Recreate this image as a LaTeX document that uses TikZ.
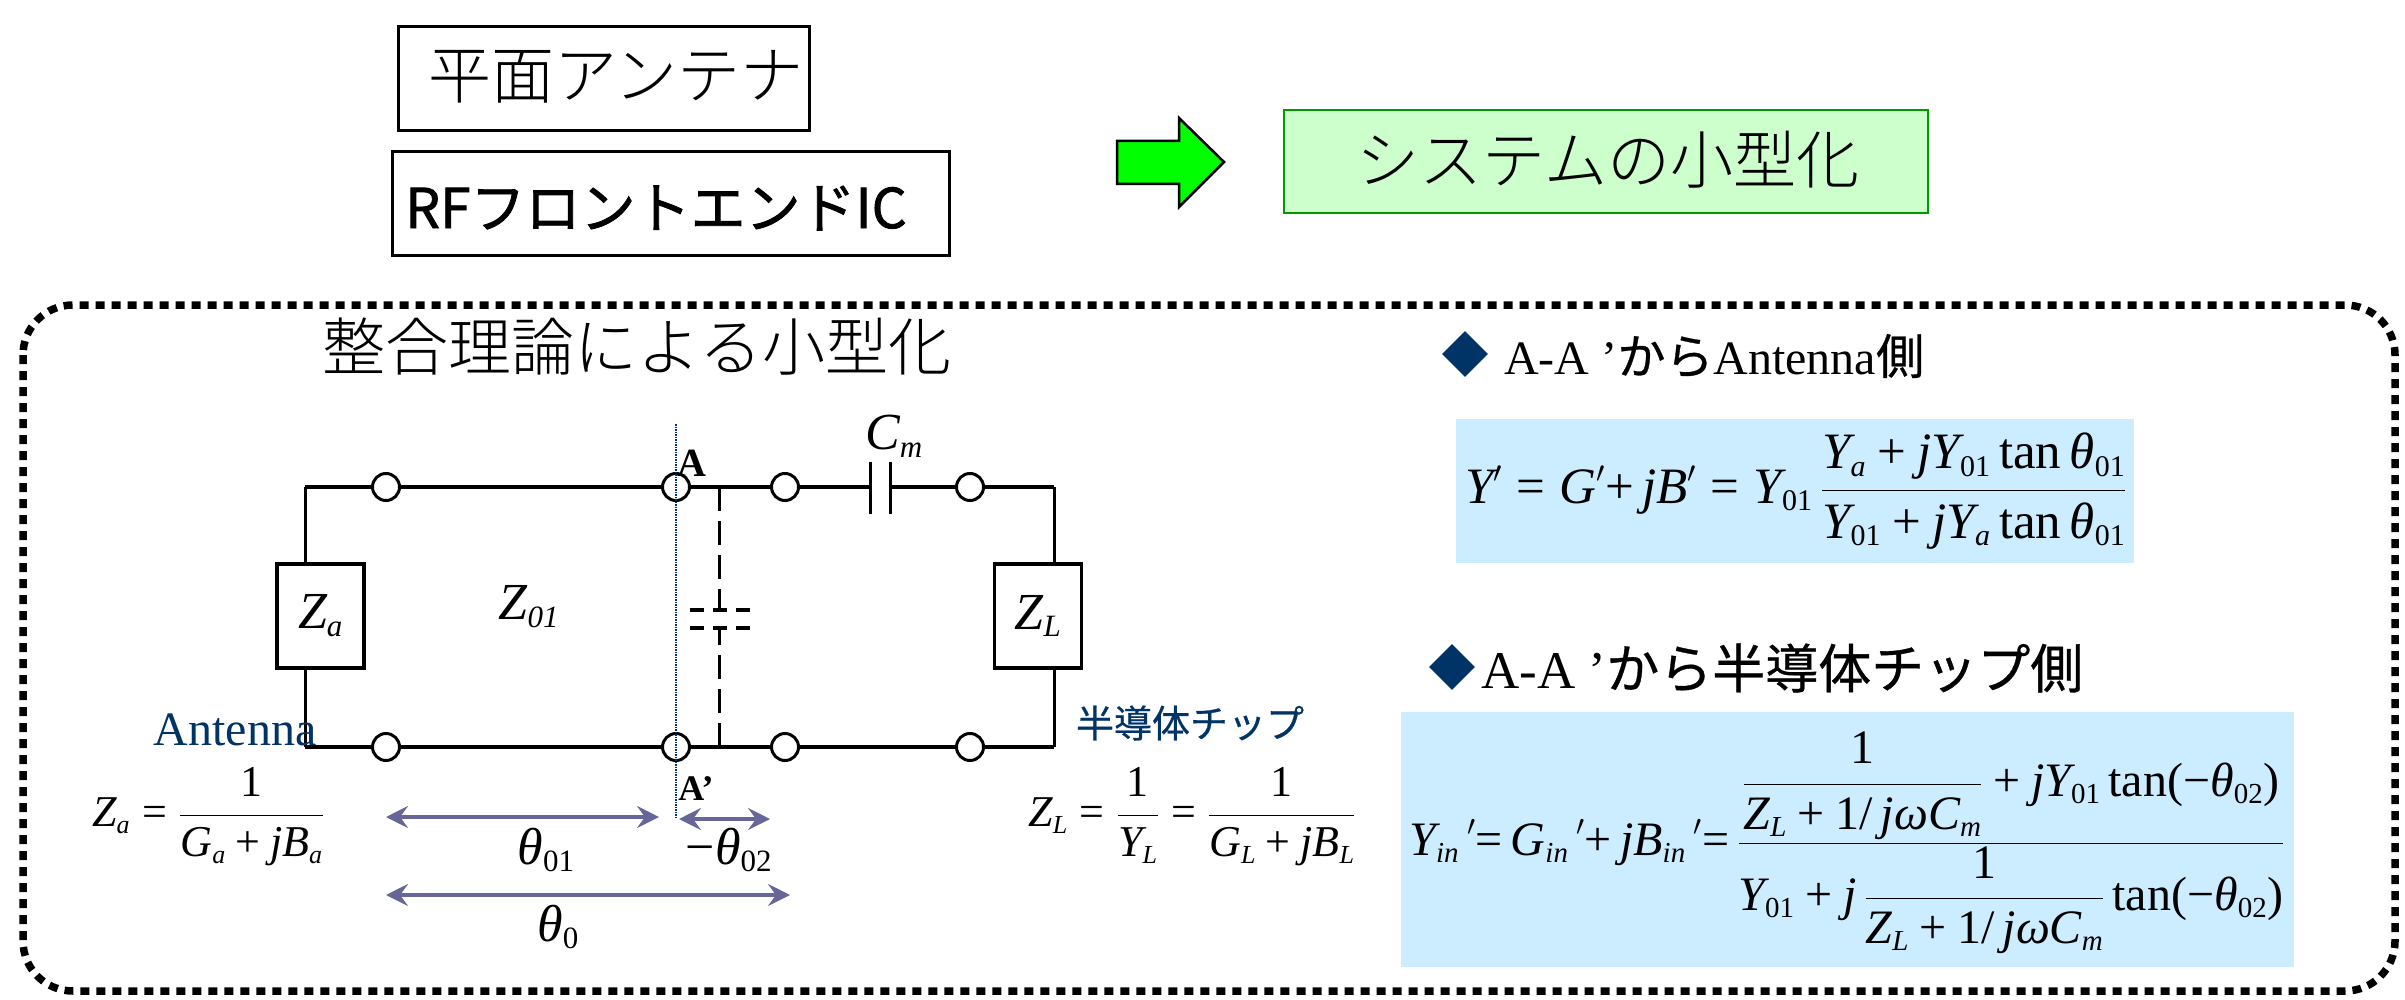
\documentclass[tikz,border=0pt]{standalone}
\usepackage{fix-cm}
\usepackage{amsmath}
\usepackage[no-math]{fontspec}
\setmainfont{Liberation Serif}
\newfontfamily\cjk{Noto Sans CJK JP}
\newfontfamily\cjkl{Noto Sans CJK JP Light}
\newfontfamily\cjkb[FakeBold=1.4]{Noto Sans CJK JP}
\newfontfamily\cjkm[FakeBold=0.6]{Noto Sans CJK JP}
\DeclareSymbolFont{operators}{TU}{\rmdefault}{m}{n}
\DeclareSymbolFont{letters}{TU}{\rmdefault}{m}{it}
\DeclareMathSizes{52}{52}{31}{22}
\DeclareMathSizes{51}{51}{30}{21}
\DeclareMathSizes{48}{48}{29}{20}
\DeclareMathSizes{44}{44}{26}{18}
\AtBeginDocument{%
\Umathchardef\mytheta="0 \symletters "03B8
\Umathchardef\myomega="0 \symletters "03C9
\Umathchardef\mminus="2 \symoperators "2212
\mathcode`\/="002F
}
\usetikzlibrary{arrows.meta,shapes.geometric}
\definecolor{navy}{HTML}{003366}
\definecolor{panel}{HTML}{CCECFF}
\definecolor{span}{HTML}{666699}
\tikzset{
 titlebox/.style={draw=black,line width=3pt,inner sep=0pt,minimum width=0pt},
 cjktext/.style={font=\fontsize{#1}{#1}\selectfont\cjkl,inner sep=0pt,text=black},
 term/.style={circle,draw=black,fill=white,line width=3pt,inner sep=0pt,minimum size=27pt},
 wire/.style={draw=black,line width=4pt},
 sidewire/.style={draw=black,line width=3pt},
 load/.style={draw=black,line width=3.5pt,fill=white,inner sep=0pt,minimum width=87pt,minimum height=104pt},
 lab/.style={inner sep=0pt,font=\fontsize{#1}{#1}\selectfont},
 dimarrow/.style={draw=span,line width=4.5pt,{Stealth[length=22pt,width=22pt,inset=8pt]}-{Stealth[length=22pt,width=22pt,inset=8pt]}},
 bullet/.style={diamond,fill=navy,inner sep=0pt,minimum width=46pt,minimum height=46pt,aspect=1},
}
\begin{document}
\begin{tikzpicture}[x=1pt,y=-1pt]
\useasboundingbox (0,0) rectangle (2405,1000);
% top boxes
\node[titlebox,minimum width=411pt,minimum height=104pt] (planar) at (604,78.5) {};
\node[cjktext=63] (planart) at (616,77) {平面アンテナ};
\node[titlebox,minimum width=557pt,minimum height=104pt] (rf) at (670.5,204) {};
\node[inner sep=0pt,font=\fontsize{55}{55}\selectfont\cjkb] (rft) at (656,208) {RFフロントエンドIC};
\draw[fill=green,draw=black,line width=2.5pt] (1117,141) -- (1179,141) -- (1179,118) -- (1224,162) -- (1179,207) -- (1179,184) -- (1117,184) -- cycle;
\node[draw=black!40!green,fill=green!20,line width=2.5pt,inner sep=0pt,minimum width=644pt,minimum height=103pt] (sys) at (1606,161.5) {};
\node[cjktext=63] (syst) at (1608,160) {システムの小型化};
% dotted frame
\draw[line width=7.5pt,rounded corners=50pt,dash pattern=on 9pt off 7pt] (23,305) rectangle (2395,991);
\node[cjktext=63] (ttl) at (637,347) {整合理論による小型化};
% circuit
\coordinate (tl) at (305,487); \coordinate (tr) at (1054,487);
\coordinate (bl) at (305,747); \coordinate (br) at (1054,747);
\coordinate (capl) at (870,487); \coordinate (capr) at (890,487);
\coordinate (capltop) at (870,462); \coordinate (caplbot) at (870,514);
\coordinate (caprtop) at (890,462); \coordinate (caprbot) at (890,514);
\coordinate (dtop) at (719,487); \coordinate (dbot) at (719,747);
\coordinate (du) at (719,610); \coordinate (dd) at (719,628);
\coordinate (dul) at (690,610); \coordinate (dur) at (754,610);
\coordinate (ddl) at (690,628); \coordinate (ddr) at (754,628);
\coordinate (vtop) at (676,424); \coordinate (vbot) at (676,817);
\node[term] (t1) at (386,487) {}; \node[term] (t2) at (676,487) {};
\node[term] (t3) at (785,487) {}; \node[term] (t4) at (970,487) {};
\node[term] (b1) at (386,747) {}; \node[term] (b2) at (676,747) {};
\node[term] (b3) at (785,747) {}; \node[term] (b4) at (970,747) {};
\node[load,lab=52] (za) at (320.5,616) {$Z_a$};
\node[load,lab=52] (zl) at (1038,616) {$Z_L$};
\draw[sidewire] (tl) -- (tl |- za.north);
\draw[sidewire] (tl |- za.south) -- (bl);
\draw[sidewire] (tr) -- (tr |- zl.north);
\draw[sidewire] (tr |- zl.south) -- (br);
\draw[wire] (tl) -- (t1); \draw[wire] (t1) -- (t2); \draw[wire] (t2) -- (t3);
\draw[wire] (t3) -- (capl); \draw[wire] (capr) -- (t4); \draw[wire] (t4) -- (tr);
\draw[wire] (bl) -- (b1); \draw[wire] (b1) -- (b2); \draw[wire] (b2) -- (b3);
\draw[wire] (b3) -- (b4); \draw[wire] (b4) -- (br);
\draw[line width=3pt] (capltop) -- (caplbot);
\draw[line width=3pt] (caprtop) -- (caprbot);
\draw[line width=3pt,dash pattern=on 24pt off 10pt] (dtop) -- (du);
\draw[line width=3pt,dash pattern=on 24pt off 10pt] (dbot) -- (dd);
\draw[line width=3.5pt,dash pattern=on 14pt off 9pt] (dul) -- (dur);
\draw[line width=3.5pt,dash pattern=on 14pt off 9pt] (ddl) -- (ddr);
\draw[navy,line width=1.5pt,densely dotted] (vtop) -- (vbot);
% labels
\node[lab=52] (z01) at (529,607) {$Z_{\textit{01}}$};
\node[lab=52] (cm) at (894,436) {$C_m$};
\node[lab=40,font=\fontsize{40}{40}\selectfont\bfseries] (aa) at (692,463) {A};
\node[lab=36,font=\fontsize{36}{36}\selectfont\bfseries] (ab) at (696,789) {A’};
\node[lab=48,text=navy] (ant) at (235,730) {Antenna};
\node[inner sep=0pt,font=\fontsize{38}{38}\selectfont\cjkm,text=navy] (chip) at (1190,723) {半導体チップ};
\node[lab=44] (zaf) at (208,817) {$\displaystyle Z_a=\dfrac{1}{G_a+jB_a}$};
\node[lab=44] (zlf) at (1192,817) {$\displaystyle Z_L=\dfrac{1}{Y_L}=\dfrac{1}{G_L+jB_L}$};
\coordinate (a1l) at (386,817); \coordinate (a1r) at (659,817);
\coordinate (a2l) at (679,819); \coordinate (a2r) at (770,819);
\coordinate (a3l) at (386,895); \coordinate (a3r) at (790,895);
\draw[dimarrow] (a1l) -- (a1r);
\draw[dimarrow] (a2l) -- (a2r);
\draw[dimarrow] (a3l) -- (a3r);
\node[lab=52] (th1) at (546,850) {$\mytheta_{01}$};
\node[lab=52] (th2) at (729,850) {$\mminus\mytheta_{02}$};
\node[lab=52] (th0) at (558,927) {$\mytheta_{0}$};
% right side
\node[bullet] (d1) at (1465,354) {};
\node[lab=48,anchor=west] (h1) at (1504,356) {A-A ’{\cjkm から}Antenna{\cjkm 側}};
\node[bullet] (d2) at (1452,667) {};
\node[lab=53,anchor=west] (h2) at (1481,668) {A-A ’{\cjkm から半導体チップ側}};
\node[fill=panel,inner sep=0pt,minimum width=678pt,minimum height=144pt] (p1) at (1795,491) {};
\node[lab=51] (f1) at (1796,491) {$\displaystyle Y'=G'{+}\,jB'=Y_{01}\,\dfrac{Y_a+jY_{01}\tan\mytheta_{01}}{Y_{01}+jY_a\tan\mytheta_{01}}$};
\node[fill=panel,inner sep=0pt,minimum width=893pt,minimum height=255pt] (p2) at (1847.5,839.5) {};
\node[lab=48] (f2) at (1847,843) {$\displaystyle Y_{in}\,'{=}\,G_{in}\,'{+}\,jB_{in}\,'{=}\,\dfrac{\dfrac{1}{Z_L+1/\,j\myomega C_m}+jY_{01}\tan(\mminus\mytheta_{02})}{Y_{01}+j\,\dfrac{1}{Z_L+1/\,j\myomega C_m}\tan(\mminus\mytheta_{02})}$};
\end{tikzpicture}
\end{document}
